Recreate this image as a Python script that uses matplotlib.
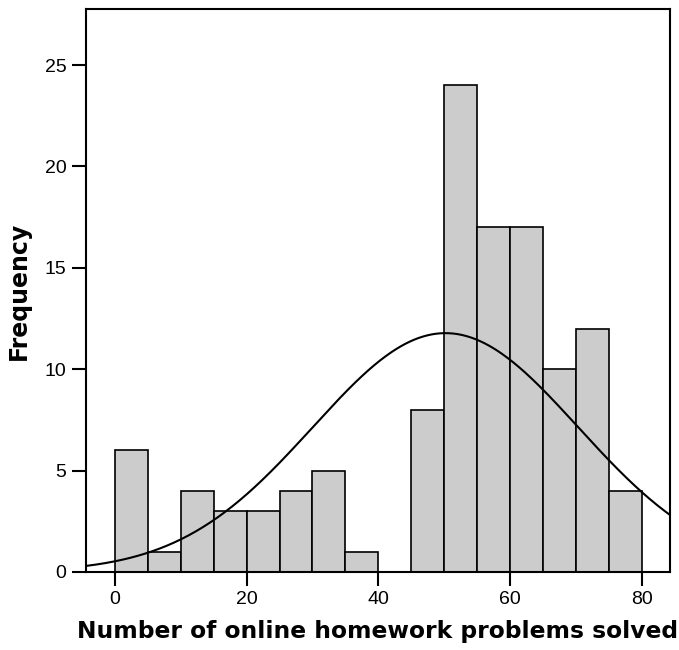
import numpy as np
import matplotlib.pyplot as plt

# histogram bins (width 5) and counts
bin_edges = [0, 5, 10, 15, 20, 25, 30, 35, 40, 45, 50, 55, 60, 65, 70, 75, 80]
counts = [6, 1, 4, 3, 3, 4, 5, 1, 0, 8, 24, 17, 17, 10, 12, 4]
x_ticks = [0, 20, 40, 60, 80]
y_ticks = [0, 5, 10, 15, 20, 25]

# fitted normal curve parameters
mean = 50.2
sd = 20.15

plt.rcParams['font.family'] = ['Liberation Sans', 'DejaVu Sans']

fig = plt.figure(figsize=(6.79, 6.5), dpi=100)
ax = fig.add_axes([0.1267, 0.12, 0.86, 0.866])

edges = np.array(bin_edges, dtype=float)
widths = np.diff(edges)
ax.bar(edges[:-1], counts, width=widths, align='edge',
       color='#cccccc', edgecolor='black', linewidth=1.2, zorder=2)

n_total = sum(counts)
xs = np.linspace(-4.4, 84.3, 400)
ys = n_total * widths[0] / (sd * np.sqrt(2 * np.pi)) * np.exp(-(xs - mean) ** 2 / (2 * sd ** 2))
ax.plot(xs, ys, color='black', linewidth=1.5, zorder=3)

ax.set_xlim(-4.4, 84.3)
ax.set_ylim(0, 27.76)
ax.set_xticks(x_ticks)
ax.set_yticks(y_ticks)
ax.tick_params(axis='both', length=10, width=1.5, labelsize=14, direction='out', pad=4)
for s in ax.spines.values():
    s.set_linewidth(1.5)

ax.set_xlabel('Number of online homework problems solved', fontsize=16.8,
              fontweight='bold', family='DejaVu Sans', labelpad=8)
ax.set_ylabel('Frequency', fontsize=17, fontweight='bold',
              family='DejaVu Sans', labelpad=10)

fig.savefig('out.png', dpi=100)
